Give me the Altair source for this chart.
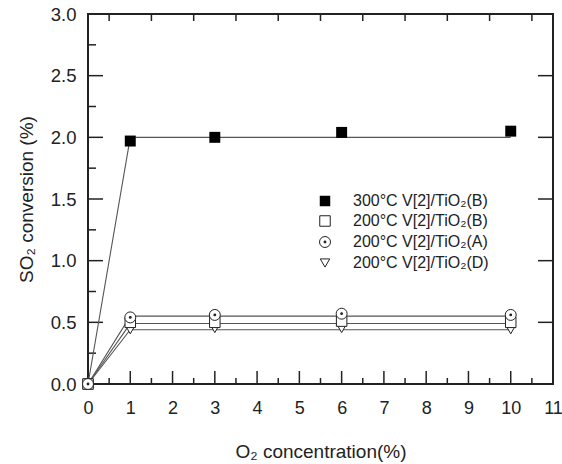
import altair as alt
import pandas as pd

# ---- data ----
o2 = [0, 1, 3, 6, 10]
conv_300B = [0.0, 1.97, 2.00, 2.04, 2.05]
conv_200B = [0.0, 0.50, 0.50, 0.51, 0.50]
conv_200A = [0.0, 0.54, 0.56, 0.57, 0.56]
conv_200D = [0.0, 0.44, 0.45, 0.45, 0.44]

fit_x = [0, 1, 10]
fit_300B = [0.0, 2.00, 2.00]
fit_200A = [0.0, 0.55, 0.55]
fit_200B = [0.0, 0.49, 0.49]
fit_200D = [0.0, 0.44, 0.44]

x_ticks = list(range(0, 12))
x_minor = [i + 0.5 for i in range(0, 11)]
y_ticks = [0.0, 0.5, 1.0, 1.5, 2.0, 2.5, 3.0]
y_minor = [0.25, 0.75, 1.25, 1.75, 2.25, 2.75]
y_right = [0.5, 1.0, 1.5, 2.0, 2.5]

labels = ["300\u00b0C V[2]/TiO\u2082(B)", "200\u00b0C V[2]/TiO\u2082(B)",
          "200\u00b0C V[2]/TiO\u2082(A)", "200\u00b0C V[2]/TiO\u2082(D)"]

W, H = 465, 370
FONT = "Liberation Sans"
INK = "#222222"

xs = alt.Scale(domain=[0, 11], nice=False, zero=False)
ys = alt.Scale(domain=[0, 3], nice=False, zero=False)
xaxis = alt.Axis(values=x_ticks, format="d", ticks=False, domain=False, grid=False,
                 labelFlush=False, labelOverlap=False,
                 labelPadding=15, labelFontSize=18, labelFont=FONT, labelColor=INK,
                 titleFontSize=19, titleFont=FONT, titleFontWeight="normal",
                 titleColor=INK, titlePadding=25)
yaxis = alt.Axis(values=y_ticks, format=".1f", ticks=False, domain=False, grid=False,
                 labelFlush=False, labelOverlap=False,
                 labelPadding=12, labelFontSize=18.5, labelFont=FONT, labelColor=INK,
                 titleFontSize=19, titleFont=FONT, titleFontWeight="normal",
                 titleColor=INK, titlePadding=14)


def X():
    return alt.X("x:Q", scale=xs, axis=xaxis, title="O\u2082 concentration(%)")


def Y():
    return alt.Y("y:Q", scale=ys, axis=yaxis, title="SO\u2082 conversion (%)")


def df(x, y):
    return pd.DataFrame({"x": x, "y": y})


layers = []

# tick marks (inward)
def xtick_layer(vals, y0, y1):
    return alt.Chart(pd.DataFrame({"x": vals})).mark_rule(color=INK, strokeWidth=1.5).encode(
        x=X(), y=alt.value(y0), y2=alt.value(y1))


def ytick_layer(vals, x0, x1):
    return alt.Chart(pd.DataFrame({"y": vals})).mark_rule(color=INK, strokeWidth=1.5).encode(
        y=Y(), x=alt.value(x0), x2=alt.value(x1))


layers.append(xtick_layer(x_ticks[1:-1], H, H - 13))
layers.append(xtick_layer(x_minor, H, H - 6))
layers.append(xtick_layer(x_minor, 0, 7))
layers.append(ytick_layer(y_ticks[1:-1], 0, 15))
layers.append(ytick_layer(y_minor, 0, 8))
layers.append(ytick_layer(y_right, W, W - 15))

# fit lines
for fy in [fit_300B, fit_200A, fit_200B, fit_200D]:
    layers.append(alt.Chart(df(fit_x, fy)).mark_line(color="#555555", strokeWidth=1.1).encode(
        x=X(), y=Y()))

# points
layers.append(alt.Chart(df(o2, conv_300B)).mark_point(
    shape="square", size=120, filled=True, color="black", opacity=1).encode(x=X(), y=Y()))
layers.append(alt.Chart(df(o2, conv_200D)).mark_point(
    shape="triangle-down", size=90, filled=False, color=INK, fill="white", fillOpacity=1,
    strokeWidth=1, opacity=1).encode(x=X(), y=Y()))
layers.append(alt.Chart(df(o2, conv_200B)).mark_point(
    shape="square", size=110, filled=False, color=INK, fill="white", fillOpacity=1,
    strokeWidth=1, opacity=1).encode(x=X(), y=Y()))
layers.append(alt.Chart(df(o2, conv_200A)).mark_point(
    shape="circle", size=120, filled=False, color=INK, fill="white", fillOpacity=1,
    strokeWidth=1, opacity=1).encode(x=X(), y=Y()))
layers.append(alt.Chart(df(o2, conv_200A)).mark_point(
    shape="circle", size=8, filled=True, color=INK, opacity=1).encode(x=X(), y=Y()))

# legend
one = pd.DataFrame({"k": [0]})
lx, tx = 237, 265
rows = [187, 207, 228, 249]
layers.append(alt.Chart(one).mark_point(shape="square", size=110, filled=True, color="black",
                                        opacity=1).encode(x=alt.value(lx), y=alt.value(rows[0])))
layers.append(alt.Chart(one).mark_point(shape="square", size=110, filled=False, color=INK,
                                        strokeWidth=1, opacity=1).encode(x=alt.value(lx), y=alt.value(rows[1])))
layers.append(alt.Chart(one).mark_point(shape="circle", size=120, filled=False, color=INK,
                                        strokeWidth=1, opacity=1).encode(x=alt.value(lx), y=alt.value(rows[2])))
layers.append(alt.Chart(one).mark_point(shape="circle", size=8, filled=True, color=INK,
                                        opacity=1).encode(x=alt.value(lx), y=alt.value(rows[2])))
layers.append(alt.Chart(one).mark_point(shape="triangle-down", size=90, filled=False, color=INK,
                                        strokeWidth=1, opacity=1).encode(x=alt.value(lx), y=alt.value(rows[3])))
for lab, ry in zip(labels, rows):
    layers.append(alt.Chart(pd.DataFrame({"t": [lab]})).mark_text(
        align="left", baseline="middle", font=FONT, fontSize=16, color=INK).encode(
        x=alt.value(tx), y=alt.value(ry), text="t:N"))

chart = alt.layer(*layers).properties(
    width=W, height=H,
    autosize=alt.AutoSizeParams(type="none"),
    padding={"left": 88, "top": 14, "right": 9, "bottom": 80},
    background="white",
).configure_view(stroke="#222222", strokeWidth=2)

chart.save("out.html", embed_options={"renderer": "svg", "actions": False})
